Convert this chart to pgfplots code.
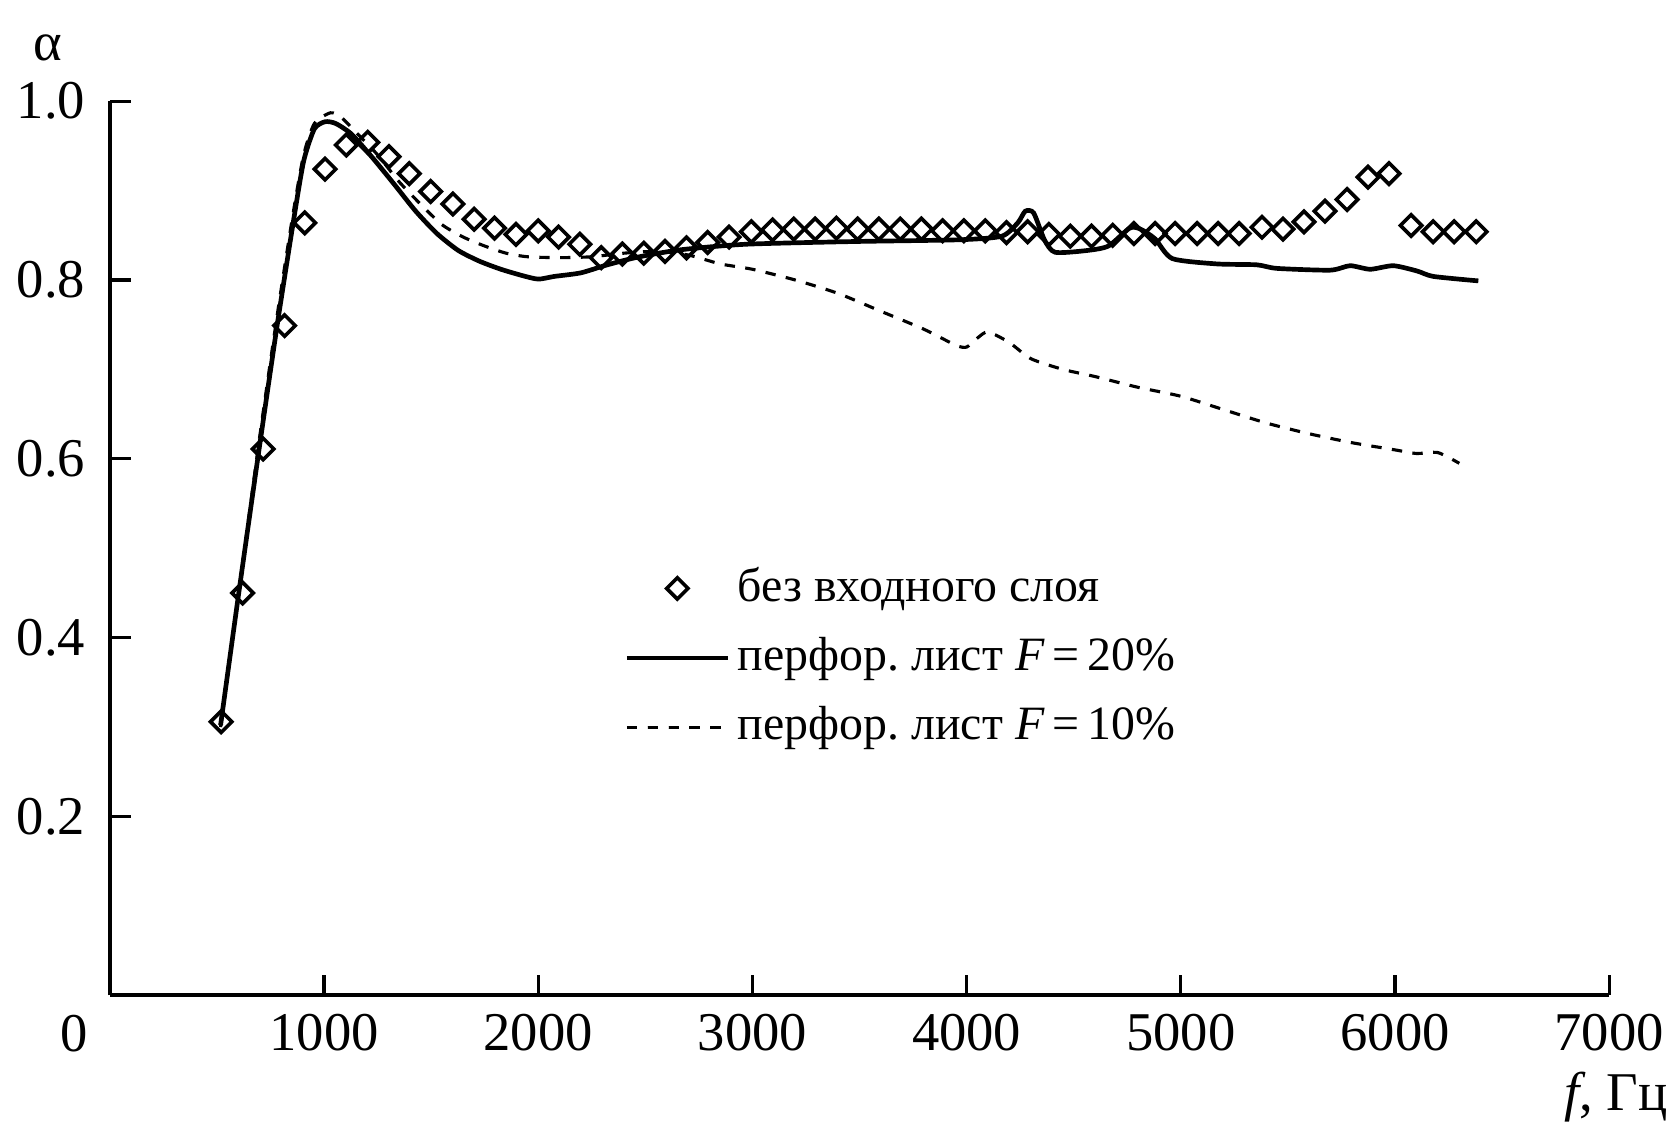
\documentclass[border=0pt]{standalone}
\usepackage{fontspec}
\setmainfont{Liberation Serif}
\usepackage{pgfplots}
\pgfplotsset{compat=1.18}
\begin{document}
\frenchspacing
\begin{tikzpicture}
\begin{axis}[
  scale only axis, width=288.35pt, height=171.96pt,
  xmin=0, xmax=7000, ymin=0, ymax=1,
  axis lines*=left,
  axis line style={line width=0.8pt},
  tick align=inside, major tick length=4pt,
  tick style={line width=0.6pt, black},
  xtick={1000,2000,3000,4000,5000,6000,7000},
  xticklabels={1000,2000,3000,4000,5000,6000,7000},
  ytick={0.2,0.4,0.6,0.8,1.0},
  yticklabels={0.2,0.4,0.6,0.8,1.0},
  every tick label/.append style={font=\fontsize{10.5}{12}\selectfont},
  yticklabel style={xshift=-1.2pt},
  clip=false,
  legend image code/.code={\draw[mark repeat=2,mark phase=2] plot coordinates {(0pt,0pt) (9.7pt,0pt) (19.4pt,0pt)};},
  legend style={draw=none, fill=none, at={(rel axis cs:0.3426,0.4885)}, anchor=north west,
    inner sep=0pt, row sep=2.4pt, nodes={inner sep=1.5pt},
    font=\fontsize{9.2}{11}\selectfont},
  legend cell align=left,
]
\addplot[only marks, mark=square, mark size=1.45pt, mark options={rotate=45, line width=0.7pt, fill=white}] coordinates {
(520,0.306) (620,0.450) (716,0.611) (816,0.749) (910,0.864) (1005,0.924)
(1104,0.951) (1204,0.954) (1303,0.938) (1398,0.919) (1498,0.899) (1602,0.885)
(1701,0.868) (1796,0.858) (1896,0.851) (2000,0.855) (2095,0.848) (2194,0.840)
(2294,0.825) (2393,0.829) (2493,0.830) (2592,0.832) (2692,0.836) (2791,0.842)
(2891,0.848) (2995,0.854) (3094,0.856) (3193,0.857) (3293,0.857) (3392,0.858)
(3491,0.857) (3590,0.857) (3690,0.857) (3789,0.857) (3888,0.855) (3987,0.855)
(4087,0.855) (4186,0.853) (4285,0.854) (4384,0.851) (4484,0.849) (4583,0.849)
(4682,0.850) (4781,0.852) (4880,0.852) (4973,0.852) (5076,0.852) (5174,0.852)
(5272,0.852) (5379,0.859) (5477,0.857) (5575,0.865) (5673,0.877) (5776,0.890)
(5874,0.915) (5972,0.919) (6075,0.861) (6178,0.854) (6276,0.854) (6379,0.854)
};
\addlegendentry{без входного слоя}
\addplot[mark=none, line width=0.9pt, smooth, tension=0.4] coordinates {
(517,0.302) (602,0.45) (697,0.611) (781,0.749) (856,0.864) (905,0.933)
(955,0.969) (1005,0.977) (1055,0.975) (1129,0.963) (1229,0.936) (1328,0.907)
(1428,0.877) (1527,0.852) (1627,0.833) (1726,0.821) (1826,0.812) (1925,0.805)
(2000,0.801) (2075,0.804) (2199,0.808) (2323,0.817) (2473,0.826) (2672,0.834)
(2970,0.840) (3468,0.843) (3965,0.845) (4164,0.849) (4239,0.864) (4274,0.877)
(4313,0.875) (4363,0.845) (4413,0.831) (4562,0.833) (4662,0.838) (4761,0.858)
(4811,0.857) (4880,0.846) (4960,0.824) (5168,0.818) (5354,0.817) (5448,0.813)
(5697,0.811) (5790,0.816) (5884,0.812) (5992,0.816) (6104,0.810) (6179,0.804)
(6389,0.799)
};
\addlegendentry{перфор. лист \textit{F}\,=\,20\%}
\addplot[mark=none, line width=0.6pt, dash pattern=on 2pt off 2pt, smooth, tension=0.4] coordinates {
(517,0.30) (602,0.45) (697,0.62) (781,0.76) (856,0.875) (905,0.94)
(955,0.975) (1030,0.987) (1080,0.982) (1150,0.965) (1250,0.94) (1350,0.91)
(1450,0.885) (1550,0.862) (1650,0.848) (1750,0.838) (1850,0.830) (1950,0.826)
(2100,0.825) (2250,0.826) (2400,0.830) (2550,0.832) (2700,0.828) (2850,0.818)
(3000,0.812) (3200,0.800) (3400,0.785) (3600,0.765) (3800,0.745) (3950,0.727)
(4000,0.725) (4050,0.735) (4100,0.742) (4200,0.730) (4300,0.712) (4450,0.700)
(4600,0.692) (4800,0.680) (5000,0.670) (5200,0.655) (5400,0.640) (5600,0.628)
(5800,0.618) (6000,0.610) (6100,0.606) (6200,0.607) (6300,0.595)
};
\addlegendentry{перфор. лист \textit{F}\,=\,10\%}
\node[font=\fontsize{10.5}{12}\selectfont] at ([shift={(-6.77pt,-7.37pt)}]axis cs:0,0) {0};
\node[font=\fontsize{10.5}{12}\selectfont] at ([shift={(-11.88pt,182.2pt)}]axis cs:0,0) {α};
\node[font=\fontsize{10.5}{12}\selectfont, anchor=east, inner sep=0pt] at ([shift={(299.8pt,-19.6pt)}]axis cs:0,0) {\textit{f}, Гц};
\end{axis}
\pgfresetboundingbox
\path (-21.12pt,-24.54pt) rectangle (300.23pt,191.42pt);
\end{tikzpicture}
\end{document}
